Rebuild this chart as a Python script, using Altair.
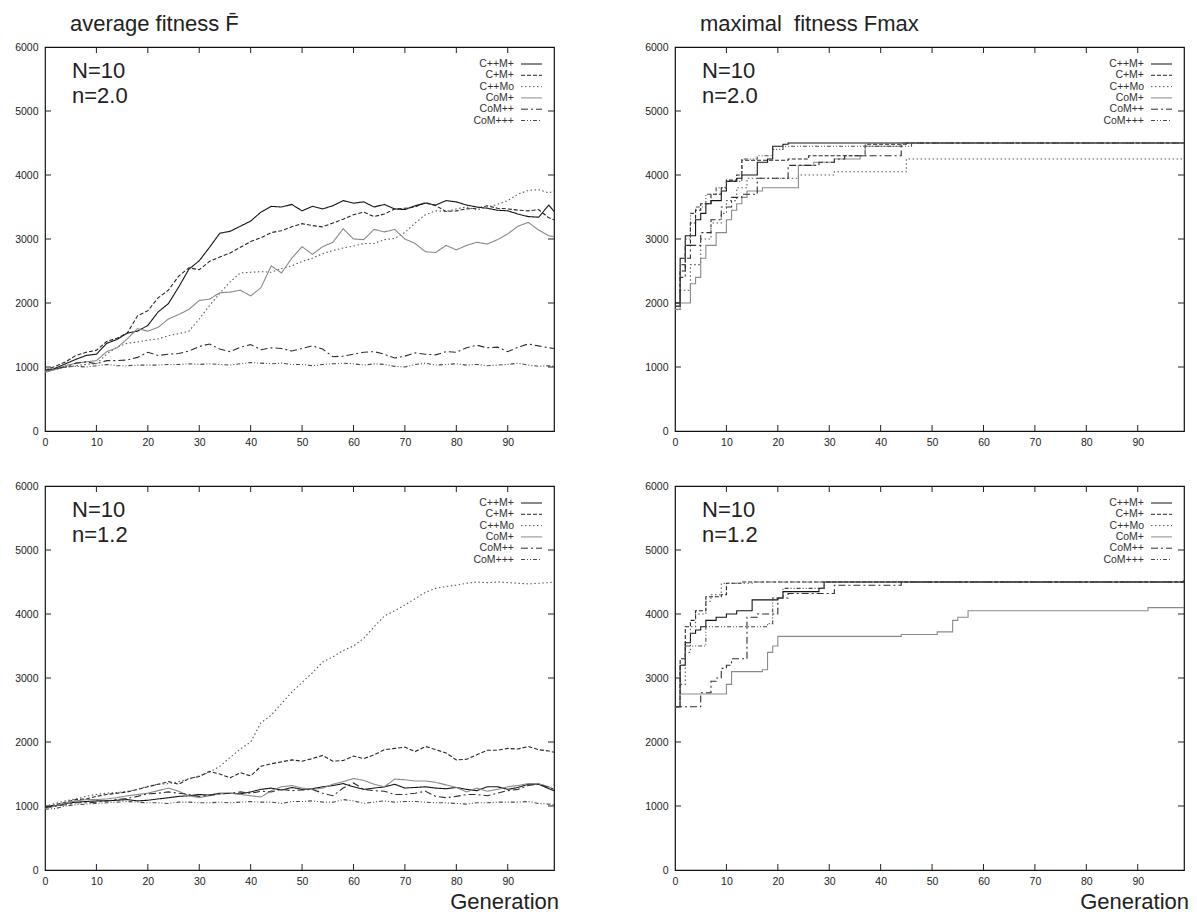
import altair as alt
import pandas as pd

SERIES = ["C++M+", "C+M+", "C++Mo", "CoM+", "CoM++", "CoM+++"]
COLORS = ["#151515", "#262626", "#5a5a5a", "#8a8a8a", "#2e2e2e", "#4a4a4a"]
DASHES = [[1, 0], [4, 2], [1.5, 2.5], [1, 0], [7, 3, 2, 3], [4, 2, 1, 2, 1, 2]]

X_TICKS = [0, 10, 20, 30, 40, 50, 60, 70, 80, 90]
Y_TICKS = [0, 1000, 2000, 3000, 4000, 5000, 6000]

# ---------- average fitness, sampled every 2nd generation (+ last) ----------
AVG_GENS = list(range(0, 100, 2)) + [99]

tl_cppmp = [920,980,1050,1120,1180,1200,1370,1430,1530,1560,1650,1860,1990,2250,2530,2660,2870,3090,3120,3200,3280,3420,3510,3500,3540,3440,3510,3470,3520,3600,3560,3580,3500,3540,3470,3460,3520,3560,3530,3600,3580,3530,3500,3480,3450,3440,3390,3350,3340,3530,3430]
tl_cpmp = [950,1010,1080,1180,1230,1260,1400,1450,1530,1800,1880,2080,2200,2420,2550,2520,2650,2720,2780,2870,2960,3020,3100,3130,3190,3240,3210,3190,3250,3310,3380,3420,3350,3390,3470,3480,3500,3570,3520,3430,3440,3470,3480,3520,3480,3470,3450,3440,3460,3330,3300]
tl_cppmo = [930,960,1000,1020,1040,1050,1200,1310,1370,1390,1420,1440,1490,1520,1560,1750,1960,2150,2330,2470,2480,2490,2480,2540,2580,2650,2700,2770,2820,2860,2890,2930,2930,2990,3010,3100,3250,3380,3440,3430,3470,3500,3450,3500,3540,3600,3700,3760,3770,3720,3750]
tl_comp = [920,960,1020,1060,1080,1100,1240,1300,1440,1600,1560,1620,1750,1820,1900,2040,2060,2160,2170,2200,2110,2240,2580,2470,2700,2880,2760,2880,2950,3160,3000,2990,3150,3110,3150,3000,2930,2800,2790,2900,2830,2900,2950,2920,2990,3080,3200,3260,3140,3050,3040]
tl_compp = [950,980,1000,1060,1080,1050,1100,1100,1110,1150,1230,1180,1200,1210,1250,1320,1360,1280,1240,1310,1350,1270,1300,1290,1250,1290,1330,1280,1160,1170,1200,1230,1240,1200,1140,1170,1220,1200,1190,1240,1230,1300,1340,1300,1310,1240,1310,1360,1330,1300,1290]
tl_comppp = [950,970,1000,1010,1000,1020,1040,1020,1020,1030,1030,1030,1040,1040,1050,1040,1050,1040,1030,1050,1070,1060,1050,1060,1040,1040,1020,1040,1050,1060,1050,1030,1050,1040,1010,1000,1040,1060,1030,1040,1050,1030,1040,1020,1030,1040,1060,1030,1010,1020,1010]

bl_cppmp = [970,1000,1040,1060,1070,1080,1080,1090,1100,1080,1090,1110,1130,1150,1160,1180,1170,1200,1200,1190,1220,1260,1280,1250,1290,1260,1270,1300,1320,1350,1300,1260,1280,1300,1340,1280,1290,1300,1280,1270,1290,1260,1240,1300,1300,1260,1290,1340,1340,1270,1240]
bl_cpmp = [980,1020,1060,1100,1110,1150,1180,1200,1220,1260,1300,1340,1380,1340,1430,1460,1540,1500,1440,1520,1470,1620,1660,1690,1720,1700,1740,1790,1700,1710,1780,1740,1800,1880,1900,1920,1850,1930,1880,1830,1720,1730,1800,1870,1870,1900,1890,1930,1880,1860,1840]
bl_cppmo = [1000,1040,1080,1110,1150,1180,1200,1210,1230,1260,1310,1340,1350,1380,1420,1470,1530,1620,1760,1890,2000,2300,2420,2600,2780,2930,3080,3250,3330,3430,3500,3620,3800,3970,4050,4140,4240,4340,4400,4430,4450,4480,4500,4490,4500,4490,4480,4470,4480,4490,4500]
bl_comp = [960,1000,1050,1080,1100,1100,1110,1130,1160,1180,1200,1240,1280,1230,1160,1130,1160,1190,1200,1180,1160,1140,1240,1300,1320,1280,1260,1280,1340,1380,1430,1400,1340,1300,1420,1410,1390,1390,1370,1330,1290,1220,1280,1230,1260,1300,1320,1350,1350,1300,1260]
bl_compp = [980,1000,1020,1050,1050,1060,1080,1100,1120,1150,1190,1200,1220,1200,1180,1150,1170,1190,1200,1220,1200,1230,1220,1260,1240,1250,1260,1200,1160,1280,1360,1260,1240,1230,1180,1180,1200,1230,1150,1130,1150,1180,1180,1160,1200,1240,1260,1320,1340,1290,1260]
bl_comppp = [950,960,1000,1020,1030,1040,1050,1060,1070,1060,1050,1050,1040,1060,1060,1050,1050,1060,1050,1060,1070,1060,1060,1040,1070,1070,1080,1060,1060,1100,1080,1040,1060,1080,1060,1070,1070,1060,1050,1050,1040,1030,1050,1050,1060,1060,1060,1070,1040,1030,1020]

# ---------- maximal fitness: step change points (generation, value) ----------
tr_cppmp_g = [0,1,2,4,5,6,7,9,10,12,13,16,18,19,21,22,99]
tr_cppmp_v = [2000,2700,3050,3300,3400,3550,3600,3750,3900,3950,4000,4200,4250,4450,4480,4500,4500]
tr_cpmp_g = [0,1,2,3,4,5,7,9,10,12,13,22,26,37,44,99]
tr_cpmp_v = [1950,2500,2900,3250,3450,3550,3700,3800,3920,4000,4230,4250,4300,4480,4500,4500]
tr_cppmo_g = [0,1,3,5,7,9,10,12,14,24,31,45,99]
tr_cppmo_v = [1900,2200,2600,3000,3250,3400,3600,3800,3950,4000,4050,4250,4250]
tr_comp_g = [0,1,3,4,5,6,8,10,11,12,13,14,17,24,27,31,36,37,44,99]
tr_comp_v = [1900,2000,2300,2400,2700,2900,3100,3300,3450,3550,3650,3750,3800,4150,4200,4250,4300,4450,4500,4500]
tr_compp_g = [0,1,2,3,5,7,9,11,13,16,22,28,31,33,44,45,99]
tr_compp_v = [1950,2400,2700,2900,3100,3300,3500,3650,3700,3950,4150,4200,4250,4300,4480,4500,4500]
tr_comppp_g = [0,1,2,3,4,6,8,10,13,16,19,21,46,99]
tr_comppp_v = [1950,2600,3000,3400,3500,3700,3800,3900,4250,4300,4400,4450,4500,4500]

br_cppmp_g = [0,1,2,3,4,5,6,8,10,12,15,20,21,28,29,99]
br_cppmp_v = [2550,3200,3550,3700,3750,3800,3900,3950,4000,4050,4220,4250,4350,4400,4500,4530]
br_cpmp_g = [0,1,2,3,4,6,9,10,13,99]
br_cpmp_v = [2550,3300,3800,3900,4050,4270,4300,4480,4500,4530]
br_cppmo_g = [0,1,2,3,4,6,7,9,15,99]
br_cppmo_v = [2550,2900,3400,3800,4000,4200,4300,4480,4500,4520]
br_comp_g = [0,1,10,11,17,18,19,20,44,51,54,55,57,92,99]
br_comp_v = [2550,2750,2900,3100,3130,3400,3500,3650,3680,3720,3900,3950,4050,4100,4100]
br_compp_g = [0,5,7,8,9,10,11,14,16,20,22,31,44,99]
br_compp_v = [2550,2770,2950,3000,3150,3200,3300,3950,4000,4250,4320,4450,4500,4520]
br_comppp_g = [0,1,2,6,18,19,21,29,99]
br_comppp_v = [2550,3200,3500,3800,3850,4250,4400,4500,4520]

W, H = 509, 384
FONT = "Liberation Sans"


def avg_frame(all_vals):
    rows = []
    for name, vals in zip(SERIES, all_vals):
        for g, v in zip(AVG_GENS, vals):
            rows.append({"gen": g, "value": v, "series": name})
    return pd.DataFrame(rows)


def step_frame(all_pairs):
    rows = []
    for name, (gens, vals) in zip(SERIES, all_pairs):
        for g, v in zip(gens, vals):
            rows.append({"gen": g, "value": v, "series": name})
    return pd.DataFrame(rows)


X_AXIS = alt.Axis(values=X_TICKS, title=None, grid=False, ticks=False, tickSize=0, format="d",
                  domain=False, labelPadding=6, labelFont=FONT, labelFontSize=10.5,
                  labelColor="#222", labelFlush=False)
Y_AXIS = alt.Axis(values=Y_TICKS, title=None, grid=False, ticks=False, tickSize=0, format="d",
                  domain=False, labelPadding=7, labelFont=FONT, labelFontSize=10.5,
                  labelColor="#222", labelFlush=False)
X_SCALE = alt.Scale(domain=[0, 99], nice=False, zero=False)
Y_SCALE = alt.Scale(domain=[0, 6000], nice=False)


def panel(df, interp, n_text, title=None, generation=False):
    x = alt.X("gen:Q", scale=X_SCALE, axis=X_AXIS)
    y = alt.Y("value:Q", scale=Y_SCALE, axis=Y_AXIS)
    lines = alt.Chart(df).mark_line(interpolate=interp, strokeWidth=1.1, clip=True).encode(
        x=x, y=y,
        color=alt.Color("series:N", scale=alt.Scale(domain=SERIES, range=COLORS), legend=None),
        strokeDash=alt.StrokeDash("series:N", scale=alt.Scale(domain=SERIES, range=DASHES), legend=None),
    )
    xt = pd.DataFrame({"gen": X_TICKS[1:]})
    yt = pd.DataFrame({"value": Y_TICKS[1:-1]})
    rule = dict(color="#222", strokeWidth=1)
    layers = [
        lines,
        alt.Chart(xt).mark_rule(**rule).encode(x=x, y=alt.value(H), y2=alt.value(H - 6)),
        alt.Chart(xt).mark_rule(**rule).encode(x=x, y=alt.value(0), y2=alt.value(6)),
        alt.Chart(yt).mark_rule(**rule).encode(y=y, x=alt.value(0), x2=alt.value(6)),
        alt.Chart(yt).mark_rule(**rule).encode(y=y, x=alt.value(W), x2=alt.value(W - 6)),
    ]
    # legend (label right-aligned, sample line to the right)
    for i, name in enumerate(SERIES):
        ly = 17 + i * 11.3
        one = pd.DataFrame({"series": [name]})
        layers.append(alt.Chart(one).mark_text(align="right", baseline="middle", font=FONT,
                                               fontSize=10.5, color="#333").encode(
            text="series:N", x=alt.value(W - 40), y=alt.value(ly)))
        layers.append(alt.Chart(one).mark_rule(strokeWidth=1, strokeDash=DASHES[i], color=COLORS[i]).encode(
            x=alt.value(W - 33), x2=alt.value(W - 12), y=alt.value(ly)))
    for i, t in enumerate(["N=10", n_text]):
        layers.append(alt.Chart(pd.DataFrame({"t": [t]})).mark_text(
            align="left", baseline="alphabetic", font=FONT, fontSize=22, color="#222").encode(
            text="t:N", x=alt.value(27), y=alt.value(31 + i * 25)))
    if title is not None:
        layers.append(alt.Chart(pd.DataFrame({"t": [title]})).mark_text(
            align="left", baseline="alphabetic", font=FONT, fontSize=22, color="#222").encode(
            text="t:N", x=alt.value(25), y=alt.value(-16)))
    if generation:
        layers.append(alt.Chart(pd.DataFrame({"t": ["Generation"]})).mark_text(
            align="right", baseline="alphabetic", font=FONT, fontSize=22, color="#222").encode(
            text="t:N", x=alt.value(W + 5), y=alt.value(H + 39)))
    return alt.layer(*layers).properties(width=W, height=H)


tl = panel(avg_frame([tl_cppmp, tl_cpmp, tl_cppmo, tl_comp, tl_compp, tl_comppp]), "linear",
           "n=2.0", title="average fitness F\u0304")
tr = panel(step_frame([(tr_cppmp_g, tr_cppmp_v), (tr_cpmp_g, tr_cpmp_v), (tr_cppmo_g, tr_cppmo_v),
                       (tr_comp_g, tr_comp_v), (tr_compp_g, tr_compp_v), (tr_comppp_g, tr_comppp_v)]),
           "step-after", "n=2.0", title="maximal\u00a0 fitness Fmax")
bl = panel(avg_frame([bl_cppmp, bl_cpmp, bl_cppmo, bl_comp, bl_compp, bl_comppp]), "linear",
           "n=1.2", generation=True)
br = panel(step_frame([(br_cppmp_g, br_cppmp_v), (br_cpmp_g, br_cpmp_v), (br_cppmo_g, br_cppmo_v),
                       (br_comp_g, br_comp_v), (br_compp_g, br_compp_v), (br_comppp_g, br_comppp_v)]),
           "step-after", "n=1.2", generation=True)

chart = alt.concat(tl, tr, bl, br, columns=2, spacing={"row": 55, "column": 121}, bounds="flush").properties(
    padding={"left": 14, "top": 12, "right": 4, "bottom": 2},
    background="white",
).configure_view(stroke="#111", strokeWidth=1.2)

chart.save("out.html", embed_options={"renderer": "svg", "actions": False})
